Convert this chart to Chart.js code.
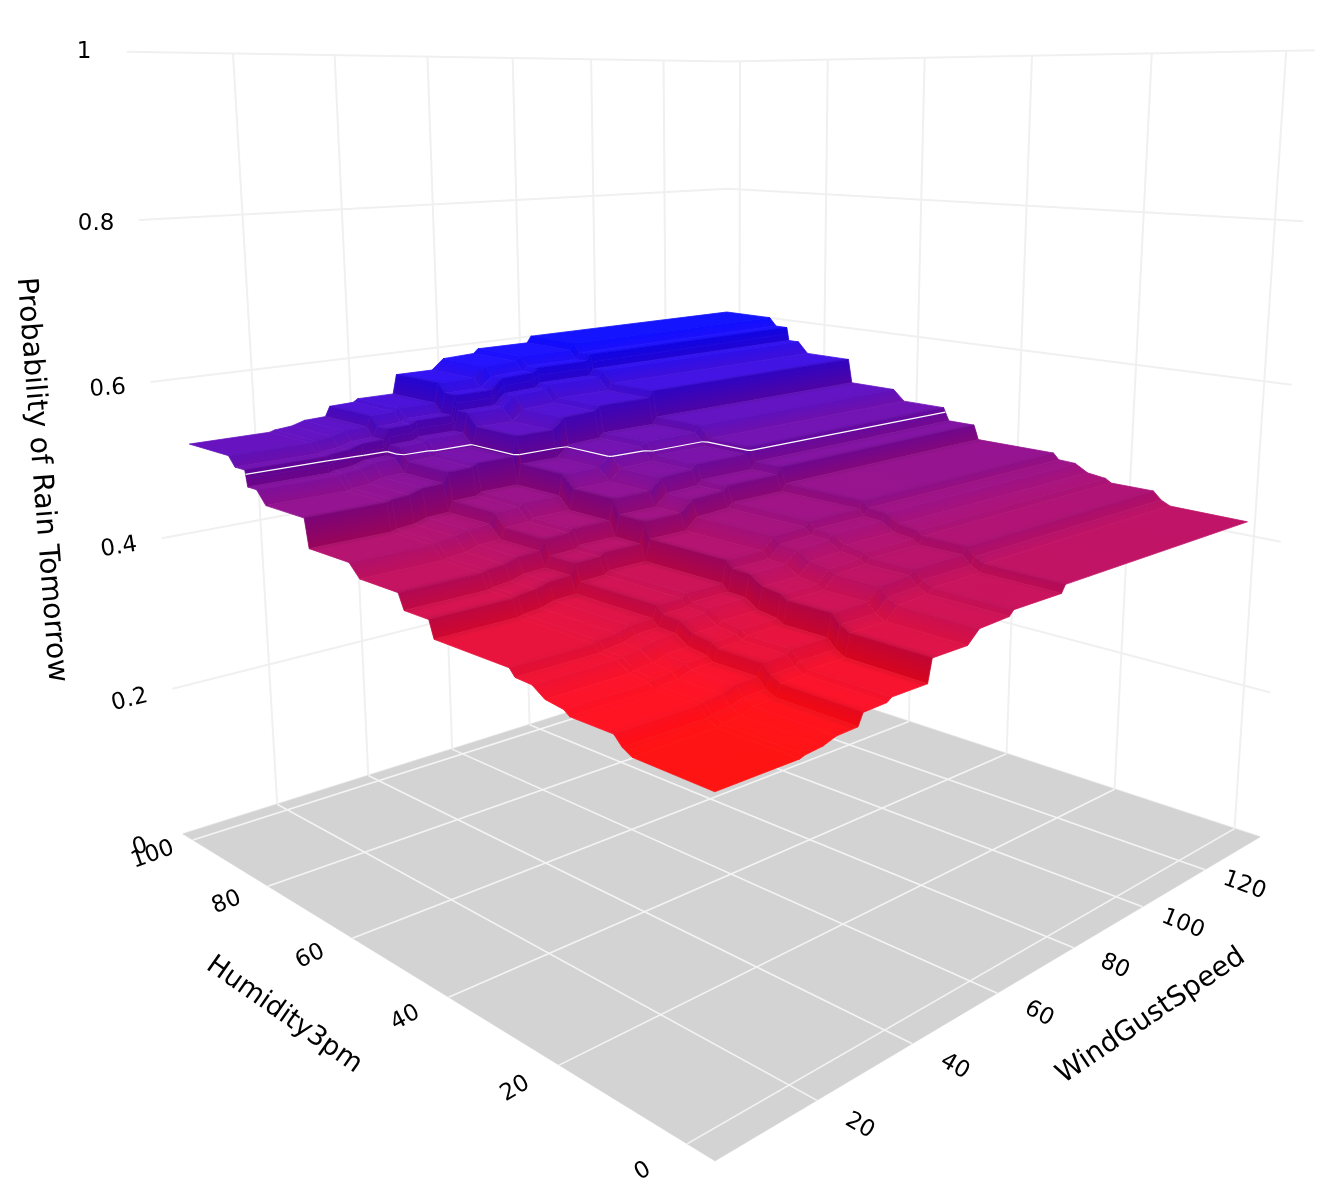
<!DOCTYPE html>
<html>
<head>
<meta charset="utf-8">
<title>Probability of Rain Tomorrow</title>
<script src="https://cdn.jsdelivr.net/npm/chart.js@4/dist/chart.umd.js"></script>
<style>
  html, body { margin: 0; padding: 0; background: #fff; }
  canvas { display: block; }
</style>
</head>
<body>
<canvas id="surface" width="1342" height="1202"></canvas>
<script>
// values
const humidity3pm = [0, 12, 13.5, 14.8, 21.8, 22.8, 25.9, 28.1, 31, 32, 45.9, 46.8, 51.7, 52.8, 60.8, 63, 71.9, 72.7, 81.8, 83.9, 86.1, 86.35, 86.6, 89.1, 90.6, 101];
const windGustSpeed = [6, 21.5, 22.5, 26, 28.6, 33, 34, 39, 40, 47.8, 48.7, 56.8, 59.5, 66.7, 67.8, 80, 81, 136.5];
// one row per windGustSpeed, one column per humidity3pm
const rainProbability = [
  [.337,.338,.344,.354,.354,.359,.362,.372,.373,.381,.381,.401,.401,.419,.419,.434,.434,.469,.469,.485,.485,.495,.505,.505,.517,.517],
  [.337,.338,.344,.354,.354,.359,.362,.372,.373,.381,.381,.401,.401,.419,.419,.434,.434,.469,.469,.485,.485,.495,.505,.505,.517,.517],
  [.339,.340,.346,.356,.356,.361,.364,.374,.375,.383,.383,.403,.403,.421,.421,.436,.436,.471,.471,.487,.487,.497,.507,.507,.519,.519],
  [.341,.342,.348,.358,.358,.363,.366,.376,.377,.385,.385,.405,.405,.423,.423,.438,.438,.473,.473,.489,.489,.499,.509,.509,.521,.521],
  [.346,.347,.353,.363,.363,.368,.371,.381,.382,.390,.390,.410,.410,.428,.428,.443,.443,.478,.478,.494,.494,.504,.514,.514,.526,.526],
  [.347,.348,.354,.364,.364,.369,.372,.382,.383,.391,.391,.411,.411,.429,.429,.444,.444,.479,.479,.495,.495,.505,.515,.515,.527,.527],
  [.360,.361,.367,.377,.377,.382,.385,.395,.396,.404,.404,.424,.424,.442,.442,.457,.457,.492,.492,.508,.508,.518,.528,.528,.540,.540],
  [.361,.362,.368,.378,.378,.383,.386,.396,.397,.405,.405,.425,.425,.443,.443,.458,.458,.493,.493,.509,.509,.519,.529,.529,.541,.541],
  [.365,.366,.372,.382,.382,.387,.390,.400,.401,.409,.409,.429,.429,.447,.447,.462,.462,.497,.497,.513,.513,.523,.533,.533,.545,.545],
  [.365,.366,.372,.382,.382,.387,.390,.400,.401,.409,.409,.429,.429,.447,.447,.462,.462,.497,.497,.513,.513,.523,.533,.533,.545,.545],
  [.391,.392,.398,.408,.408,.413,.416,.426,.427,.435,.435,.455,.455,.473,.473,.488,.488,.523,.523,.539,.539,.549,.559,.559,.571,.571],
  [.391,.392,.398,.408,.408,.413,.416,.426,.427,.435,.435,.455,.455,.473,.473,.488,.488,.523,.523,.539,.539,.549,.559,.559,.571,.571],
  [.405,.406,.412,.422,.422,.427,.430,.440,.441,.449,.449,.469,.469,.487,.487,.502,.502,.537,.537,.553,.553,.563,.573,.573,.585,.585],
  [.407,.408,.414,.424,.424,.429,.432,.442,.443,.451,.451,.471,.471,.489,.489,.504,.504,.539,.539,.555,.555,.565,.575,.575,.587,.587],
  [.413,.414,.420,.430,.430,.435,.438,.448,.449,.457,.457,.477,.477,.495,.495,.510,.510,.545,.545,.561,.561,.571,.581,.581,.593,.593],
  [.413,.414,.420,.430,.430,.435,.438,.448,.449,.457,.457,.477,.477,.495,.495,.510,.510,.545,.545,.561,.561,.571,.581,.581,.593,.593],
  [.422,.423,.429,.439,.439,.444,.447,.457,.458,.466,.466,.486,.486,.504,.504,.519,.519,.554,.554,.570,.570,.580,.590,.590,.602,.602],
  [.424,.425,.431,.441,.441,.446,.449,.459,.460,.468,.468,.488,.488,.506,.506,.521,.521,.556,.556,.572,.572,.582,.592,.592,.604,.604]
];
const humidityTicks = [0, 20, 40, 60, 80, 100];
const windTicks = [20, 40, 60, 80, 100, 120];
const probabilityTicks = [0, 0.2, 0.4, 0.6, 0.8, 1];
const contourLevel = 0.5;

const WIDTH = 1342, HEIGHT = 1202;
const nHum = humidity3pm.length - 1, nWind = windGustSpeed.length - 1;

// box coordinates: 0..1 on each side of the scene
const humToBox = h => (h + 3.98) / 106.8;
const windToBox = w => (w - 0.97) / 138.3;

// perspective camera fitted to the box corners
function project(a, b, c) {
  const d = 1 + 0.4327 * a + 0.4433 * b - 0.1343 * c;
  return {
    x: (715 - 452.8 * a + 1103.6 * b - 97.3 * c) / d,
    y: (1161 + 33.9 * a + 47.1 * b - 1135 * c) / d
  };
}
const surfacePoint = (h, w, z) => project(humToBox(h), windToBox(w), z);

// the wall lines sit a few px off the fitted camera near the top
function wallPoint(a, b, c) {
  const p = project(a, b, c);
  return { x: p.x, y: p.y + 5.5 * (a - b) * c * c };
}

const ctx = document.getElementById("surface").getContext("2d");
const zMin = rainProbability[0][0];
const zMax = rainProbability[nWind][nHum];

// red (low) to blue (high), steep cells a little darker, flat ones a little lighter
function shadeColor(z, steep) {
  const t = Math.min(1, Math.max(0, (z - zMin) / (zMax - zMin)));
  const glow = 20 * (1 - steep);
  const dark = 1 - 0.1 * steep;
  const r = Math.min(255, 255 * (1 - t) * dark + glow);
  const b = Math.min(255, 255 * t * dark + glow);
  return `rgb(${r.toFixed(0)},${glow.toFixed(0)},${b.toFixed(0)})`;
}

function cellSlopes(i, j) {
  const z00 = rainProbability[j][i], z10 = rainProbability[j][i + 1];
  const z01 = rainProbability[j + 1][i], z11 = rainProbability[j + 1][i + 1];
  return {
    h: ((z10 - z00) + (z11 - z01)) / 2 / (humToBox(humidity3pm[i + 1]) - humToBox(humidity3pm[i])),
    w: ((z01 - z00) + (z11 - z10)) / 2 / (windToBox(windGustSpeed[j + 1]) - windToBox(windGustSpeed[j]))
  };
}

function cellSteepness(i, j) {
  const s = cellSlopes(i, j);
  const cosine = 1 / Math.sqrt(1 + 4 * (s.h * s.h + s.w * s.w));
  return Math.pow(1 - cosine, 2);
}

// linear gradient whose colour lines run parallel to p->q, ending at far
function bandGradient(p, q, far) {
  const ex = q.x - p.x, ey = q.y - p.y;
  const len = Math.hypot(ex, ey) || 1;
  const nx = -ey / len, ny = ex / len;
  const d = (far.x - p.x) * nx + (far.y - p.y) * ny;
  return ctx.createLinearGradient(p.x, p.y, p.x + nx * d, p.y + ny * d);
}

function cellDataset(i, j) {
  const h0 = humidity3pm[i], h1 = humidity3pm[i + 1];
  const w0 = windGustSpeed[j], w1 = windGustSpeed[j + 1];
  const z00 = rainProbability[j][i], z11 = rainProbability[j + 1][i + 1];
  const corners = [
    surfacePoint(h0, w0, z00), surfacePoint(h1, w0, rainProbability[j][i + 1]),
    surfacePoint(h1, w1, z11), surfacePoint(h0, w1, rainProbability[j + 1][i])
  ];
  const steep = cellSteepness(i, j);
  const dzHum = rainProbability[j][i + 1] - z00, dzWind = rainProbability[j + 1][i] - z00;

  let paint = shadeColor(z00, steep);
  if (z11 - z00 > 0.0005) {
    const g = dzWind >= dzHum
      ? bandGradient(corners[0], corners[1], corners[3])
      : bandGradient(corners[0], corners[3], corners[1]);
    g.addColorStop(0, shadeColor(z00, steep));
    g.addColorStop(1, shadeColor(z11, steep));
    paint = g;
  }
  return {
    data: [...corners, corners[0]],
    fill: "shape",
    backgroundColor: paint,
    borderColor: paint,
    borderWidth: 0.8
  };
}

function zInCell(i, j, h, w) {
  const u = (h - humidity3pm[i]) / (humidity3pm[i + 1] - humidity3pm[i]);
  const v = (w - windGustSpeed[j]) / (windGustSpeed[j + 1] - windGustSpeed[j]);
  return (1 - v) * ((1 - u) * rainProbability[j][i] + u * rainProbability[j][i + 1]) +
    v * ((1 - u) * rainProbability[j + 1][i] + u * rainProbability[j + 1][i + 1]);
}

// soft dark fringe on the side of a cell that touches a steeper neighbour
function fringeDatasets(i, j) {
  const out = [];
  const own = cellSteepness(i, j);
  const h0 = humidity3pm[i], h1 = humidity3pm[i + 1];
  const w0 = windGustSpeed[j], w1 = windGustSpeed[j + 1];
  const dh = Math.min(1.6, (h1 - h0) * 0.45), dw = Math.min(1.8, (w1 - w0) * 0.45);
  const sides = [
    { ni: i - 1, nj: j, edge: [[h0, w0], [h0, w1]], inner: [[h0 + dh, w0], [h0 + dh, w1]] },
    { ni: i + 1, nj: j, edge: [[h1, w0], [h1, w1]], inner: [[h1 - dh, w0], [h1 - dh, w1]] },
    { ni: i, nj: j - 1, edge: [[h0, w0], [h1, w0]], inner: [[h0, w0 + dw], [h1, w0 + dw]] },
    { ni: i, nj: j + 1, edge: [[h0, w1], [h1, w1]], inner: [[h0, w1 - dw], [h1, w1 - dw]] }
  ];
  sides.forEach(s => {
    if (s.ni < 0 || s.nj < 0 || s.ni >= nHum || s.nj >= nWind) return;
    const diff = cellSteepness(s.ni, s.nj) - own;
    if (diff < 0.1) return;
    const [p, q, far, far2] = [s.edge[0], s.edge[1], s.inner[0], s.inner[1]]
      .map(n => surfacePoint(n[0], n[1], zInCell(i, j, n[0], n[1])));
    const g = bandGradient(p, q, far);
    g.addColorStop(0, `rgba(0,0,0,${(0.11 * diff).toFixed(3)})`);
    g.addColorStop(1, "rgba(0,0,0,0)");
    out.push({ data: [p, q, far2, far, p], fill: "shape", backgroundColor: g, borderWidth: 0 });
  });
  return out;
}

// where the contour level crosses one cell of the table
function contourSegment(i, j) {
  const nodes = [[i, j], [i + 1, j], [i + 1, j + 1], [i, j + 1]];
  const hits = [];
  nodes.forEach((n, k) => {
    const m = nodes[(k + 1) % 4];
    const z0 = rainProbability[n[1]][n[0]], z1 = rainProbability[m[1]][m[0]];
    if ((z0 < contourLevel) === (z1 < contourLevel)) return;
    const t = (contourLevel - z0) / (z1 - z0);
    const h = humidity3pm[n[0]] + t * (humidity3pm[m[0]] - humidity3pm[n[0]]);
    const w = windGustSpeed[n[1]] + t * (windGustSpeed[m[1]] - windGustSpeed[n[1]]);
    hits.push(surfacePoint(h, w, contourLevel));
  });
  return hits.length >= 2 ? hits.slice(0, 2) : null;
}

function gridLine(from, to, color, width) {
  return { data: [from, to], borderColor: color, borderWidth: width, fill: false };
}

const WALL = "#f0f0f0", FLOOR_LINE = "#f4f4f4";
const datasets = [];

// first dataset is drawn last: contour, then nearest cells, then the box
for (let i = 0; i < nHum; i++) {
  for (let j = 0; j < nWind; j++) {
    const seg = contourSegment(i, j);
    if (seg) datasets.push(gridLine(seg[0], seg[1], "#fff", 1.2));
  }
}
for (let i = 0; i < nHum; i++) {
  for (let j = 0; j < nWind; j++) {
    datasets.push(...fringeDatasets(i, j));
    datasets.push(cellDataset(i, j));
  }
}

humidityTicks.forEach(h => {
  const a = humToBox(h);
  datasets.push(gridLine(project(a, 0, 0), project(a, 1, 0), FLOOR_LINE, 1.6));
});
windTicks.forEach(w => {
  const b = windToBox(w);
  datasets.push(gridLine(project(0, b, 0), project(1, b, 0), FLOOR_LINE, 1.6));
});

const floorCorners = [project(0, 0, 0), project(1, 0, 0), project(1, 1, 0), project(0, 1, 0)];
datasets.push({
  data: [...floorCorners, floorCorners[0]],
  fill: "shape",
  backgroundColor: "#d3d3d3",
  borderColor: "#d3d3d3",
  borderWidth: 0.5
});

// back walls
probabilityTicks.forEach(z => {
  datasets.push({
    data: [wallPoint(1, 0, z), wallPoint(1, 1, z), wallPoint(0, 1, z)],
    borderColor: WALL,
    borderWidth: 2,
    fill: false
  });
});
windTicks.forEach(w => {
  const b = windToBox(w);
  datasets.push(gridLine(wallPoint(1, b, 0), wallPoint(1, b, 1), WALL, 2));
});
humidityTicks.forEach(h => {
  const a = humToBox(h);
  datasets.push(gridLine(wallPoint(a, 1, 0), wallPoint(a, 1, 1), WALL, 2));
});

const deg = d => d * Math.PI / 180;
function drawText(c, text, x, y, size, angle) {
  c.save();
  c.translate(x, y);
  c.rotate(deg(angle));
  c.font = `${size}px "DejaVu Sans"`;
  c.fillStyle = "#000";
  c.textAlign = "center";
  c.textBaseline = "middle";
  c.fillText(text, 0, 0);
  c.restore();
}

const humidityTickAngles = [-30, -30, -28, -25, -22, -20];
const windTickAngles = [30, 30, 28, 25, 22, 20];
const probabilityTickAngles = [-18, -14, -9, -4, 0, 0];

const axisLabels = {
  id: "axisLabels",
  afterDraw(chart) {
    const c = chart.ctx;
    const TICK = 23;
    humidityTicks.forEach((h, k) => {
      const p = project(humToBox(h), -0.055, 0);
      drawText(c, String(h), p.x, p.y + 2, TICK, humidityTickAngles[k]);
    });
    windTicks.forEach((w, k) => {
      const p = project(-0.055, windToBox(w), 0);
      drawText(c, String(w), p.x, p.y + 2, TICK, windTickAngles[k]);
    });
    probabilityTicks.forEach((z, k) => {
      const p = project(1, 0, z);
      drawText(c, String(z), p.x - 43, p.y + 13 - 7 * z, TICK, probabilityTickAngles[k]);
    });
    drawText(c, "Humidity3pm", 284, 1015, 27, 35);
    drawText(c, "WindGustSpeed", 1151, 1016, 27.7, -34);
    drawText(c, "Probability of Rain Tomorrow", 41, 480, 28.5, 85.5);
  }
};

new Chart(ctx, {
  type: "line",
  data: { datasets },
  plugins: [axisLabels],
  options: {
    responsive: false,
    animation: false,
    events: [],
    layout: { padding: 0 },
    elements: { point: { radius: 0 }, line: { tension: 0 } },
    plugins: { legend: { display: false }, tooltip: { enabled: false } },
    scales: {
      x: { type: "linear", display: false, min: 0, max: WIDTH },
      y: { type: "linear", display: false, min: 0, max: HEIGHT, reverse: true }
    }
  }
});
</script>
</body>
</html>
